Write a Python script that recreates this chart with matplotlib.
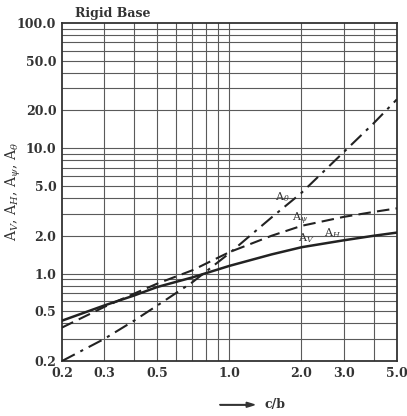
import matplotlib
matplotlib.use("Agg")
import matplotlib.pyplot as plt
from matplotlib.ticker import FixedLocator, NullFormatter

# values (c/b vs coefficient)
cb = [0.2, 0.3, 0.4, 0.5, 0.7, 1.0, 1.5, 2.0, 3.0, 4.0, 5.0]
a_theta = [0.2, 0.30, 0.42, 0.555, 0.85, 1.45, 2.8, 4.4, 9.3, 15.8, 24.5]
a_psi = [0.37, 0.54, 0.69, 0.83, 1.06, 1.48, 2.0, 2.4, 2.83, 3.1, 3.31]
a_vh = [0.42, 0.555, 0.667, 0.78, 0.93, 1.15, 1.42, 1.62, 1.84, 2.0, 2.12]

x_ticks = [0.2, 0.3, 0.5, 1.0, 2.0, 3.0, 5.0]
y_ticks = [0.2, 0.5, 1.0, 2.0, 5.0, 10.0, 20.0, 50.0, 100.0]

plt.rcParams['font.family'] = ['DejaVu Serif']
plt.rcParams['mathtext.fontset'] = 'dejavuserif'

fig = plt.figure(figsize=(4.07, 4.16), dpi=100)
ax = fig.add_axes([0.152, 0.132, 0.823, 0.813])
ax.set_xscale('log')
ax.set_yscale('log')
ax.set_xlim(0.2, 5.0)
ax.set_ylim(0.2, 100.0)

# grid: every 0.1 below 1, then 2,3,4 ; y on 1-9 multiples
xg = [0.3, 0.4, 0.5, 0.6, 0.7, 0.8, 0.9, 1.0, 2.0, 3.0, 4.0]
yg = []
for dec in [0.1, 1.0, 10.0]:
    for m in range(1, 10):
        v = m * dec
        if 0.2 < v < 100:
            yg.append(v)
for v in xg:
    ax.axvline(v, color='#5a5a5a', lw=0.8, zorder=1)
for v in yg:
    ax.axhline(v, color='#5a5a5a', lw=0.8, zorder=1)

ax.plot(cb, a_theta, color='#222222', lw=1.5, dashes=[7, 3, 1.5, 3], zorder=3)
ax.plot(cb, a_psi, color='#222222', lw=1.5, dashes=[6, 3], zorder=3)
ax.plot(cb, a_vh, color='#222222', lw=1.8, zorder=3)

lab_kw = dict(fontsize=8, ha='center', va='center', zorder=4, color='#333333')
ax.text(1.67, 4.05, r'$\mathrm{A}_\theta$', **lab_kw)
ax.text(1.97, 2.75, r'$\mathrm{A}_\psi$', **lab_kw)
ax.text(2.1, 1.92, r'$\mathrm{A}_V$', **lab_kw)
ax.text(2.7, 2.12, r'$\mathrm{A}_H$', **lab_kw)

ax.xaxis.set_major_locator(FixedLocator(x_ticks))
ax.xaxis.set_minor_formatter(NullFormatter())
ax.set_xticklabels(['%.1f' % v for v in x_ticks])
ax.yaxis.set_major_locator(FixedLocator(y_ticks))
ax.yaxis.set_minor_formatter(NullFormatter())
ax.set_yticklabels(['%.1f' % v for v in y_ticks])
ax.tick_params(which='both', length=0, labelsize=9, colors='#333333', pad=4)
for lab in ax.get_xticklabels() + ax.get_yticklabels():
    lab.set_fontweight('bold')

for s in ax.spines.values():
    s.set_linewidth(1.3)
    s.set_color('#333333')

fig.text(0.033, 0.54, r'$\mathrm{A}_V$, $\mathrm{A}_H$, $\mathrm{A}_\psi$, $\mathrm{A}_\theta$',
         fontsize=10, color='#333333', rotation=90, ha='center', va='center')
fig.text(0.185, 0.952, 'Rigid Base', fontsize=9, fontweight='bold', color='#333333',
         ha='left', va='bottom')

# arrow + c/b label under the axis
fig.patches.append(matplotlib.patches.FancyArrow(
    0.54, 0.027, 0.085, 0, width=0.001, head_width=0.012, head_length=0.02,
    length_includes_head=True, color='#333333', transform=fig.transFigure, figure=fig))
fig.text(0.65, 0.027, 'c/b', fontsize=9, fontweight='bold', color='#333333',
         ha='left', va='center')

fig.savefig('out.png', dpi=100, facecolor='white')
